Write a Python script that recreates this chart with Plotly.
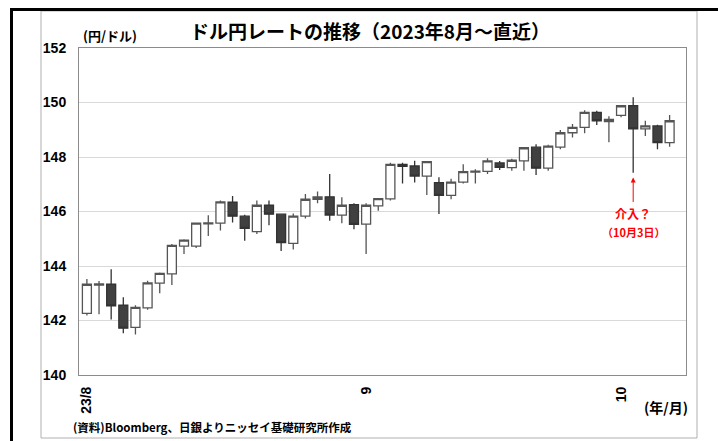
import plotly.graph_objects as go

# Business days, Aug 1 – Oct 6, 2023
dates = [
    "2023-08-01", "2023-08-02", "2023-08-03", "2023-08-04",
    "2023-08-07", "2023-08-08", "2023-08-09", "2023-08-10", "2023-08-11",
    "2023-08-14", "2023-08-15", "2023-08-16", "2023-08-17", "2023-08-18",
    "2023-08-21", "2023-08-22", "2023-08-23", "2023-08-24", "2023-08-25",
    "2023-08-28", "2023-08-29", "2023-08-30", "2023-08-31",
    "2023-09-01",
    "2023-09-04", "2023-09-05", "2023-09-06", "2023-09-07", "2023-09-08",
    "2023-09-11", "2023-09-12", "2023-09-13", "2023-09-14", "2023-09-15",
    "2023-09-18", "2023-09-19", "2023-09-20", "2023-09-21", "2023-09-22",
    "2023-09-25", "2023-09-26", "2023-09-27", "2023-09-28", "2023-09-29",
    "2023-10-02", "2023-10-03", "2023-10-04", "2023-10-05", "2023-10-06",
]

open_ = [
    142.26, 143.30, 143.33, 142.56, 141.75, 142.46, 143.37, 143.71, 144.73,
    144.73, 145.55, 145.57, 146.34, 145.83, 145.26, 146.23, 145.90, 144.83,
    145.83, 146.45, 146.54, 145.87, 146.25, 145.54, 146.21, 146.46, 147.73,
    147.67, 147.30, 147.06, 146.59, 147.08, 147.45, 147.47, 147.78, 147.61,
    147.86, 148.36, 147.59, 148.36, 148.89, 149.09, 149.64, 149.30, 149.53,
    149.88, 149.03, 149.14, 148.53,
]
high = [
    143.52, 143.45, 143.88, 142.85, 142.56, 143.46, 143.76, 144.81, 144.98,
    145.60, 145.86, 146.40, 146.57, 145.88, 146.40, 146.40, 145.93, 145.93,
    146.64, 146.73, 147.38, 146.52, 146.30, 146.30, 146.49, 147.79, 147.79,
    147.86, 147.85, 147.26, 147.20, 147.73, 147.55, 147.95, 147.85, 147.94,
    148.36, 148.47, 148.45, 148.99, 149.21, 149.72, 149.70, 149.50, 149.90,
    150.19, 149.33, 149.18, 149.54,
]
low = [
    142.18, 142.23, 142.04, 141.53, 141.49, 142.39, 143.00, 143.30, 144.44,
    144.66, 145.10, 145.30, 145.60, 144.93, 145.17, 145.50, 144.55, 144.61,
    145.74, 146.30, 145.66, 145.57, 145.35, 144.44, 146.03, 146.40, 147.03,
    147.06, 146.61, 145.91, 146.45, 147.03, 147.03, 147.38, 147.52, 147.50,
    147.50, 147.34, 147.50, 148.28, 148.72, 148.87, 149.17, 148.54, 149.46,
    147.42, 148.77, 148.28, 148.38,
]
close = [
    143.33, 143.34, 142.54, 141.72, 142.48, 143.38, 143.73, 144.76, 144.95,
    145.57, 145.58, 146.35, 145.83, 145.38, 146.23, 145.90, 144.86, 145.83,
    146.45, 146.54, 145.87, 146.23, 145.53, 146.23, 146.47, 147.73, 147.66,
    147.30, 147.83, 146.59, 147.08, 147.46, 147.48, 147.86, 147.62, 147.88,
    148.34, 147.59, 148.40, 148.89, 149.09, 149.64, 149.33, 149.38, 149.88,
    149.03, 149.14, 148.53, 149.33,
]

# Axis ticks
x_tick_dates = ["2023-08-01", "2023-09-01", "2023-10-02"]
x_tick_text = ["23/8", "9", "10"]
y_ticks = [140, 142, 144, 146, 148, 150, 152]

event_date = "2023-10-03"

JP = "Noto Sans CJK JP"
NUM = "Liberation Sans Narrow, Arial Narrow, Liberation Sans, sans-serif"

W, H = 718, 441
ML, MR, MT, MB = 79, 32, 48, 66
PW, PH = W - ML - MR, H - MT - MB


def px_x(px):
    return (px - ML) / PW


def px_y(py):
    return (H - MB - py) / PH


fig = go.Figure()
fig.add_trace(go.Candlestick(
    x=dates, open=open_, high=high, low=low, close=close,
    increasing=dict(fillcolor="#ffffff", line=dict(color="#555555", width=1.3)),
    decreasing=dict(fillcolor="#404040", line=dict(color="#333333", width=1.3)),
    whiskerwidth=0,
    showlegend=False,
    hoverinfo="skip",
))

fig.update_layout(
    width=W, height=H,
    margin=dict(l=ML, r=MR, t=MT, b=MB),
    paper_bgcolor="#ffffff", plot_bgcolor="#ffffff",
    boxgap=0.26, boxgroupgap=0.0,
    showlegend=False,
    font=dict(family=JP, color="#000000"),
)

fig.update_xaxes(
    type="category",
    categoryorder="array", categoryarray=dates,
    range=[-0.65, 49.35],
    rangeslider=dict(visible=False),
    tickmode="array", tickvals=x_tick_dates,
    ticktext=[f"<b>{t}</b>" for t in x_tick_text],
    tickangle=-90,
    tickfont=dict(family=NUM, size=14, color="#000000"),
    ticks="", ticklabelstandoff=5,
    showgrid=False, zeroline=False,
    showline=True, linecolor="#8c8c8c", linewidth=1, mirror=True,
)
fig.update_yaxes(
    range=[140, 152],
    tickmode="array", tickvals=y_ticks,
    ticktext=[f"<b>{v}</b>" for v in y_ticks],
    tickfont=dict(family=NUM, size=14, color="#000000"),
    ticks="", ticklabelstandoff=9,
    showgrid=True, gridcolor="#d9d9d9", gridwidth=1,
    zeroline=False,
    showline=True, linecolor="#8c8c8c", linewidth=1, mirror=True,
)

# Frame: black rules top/left and grey outer box
fig.add_shape(type="rect", xref="paper", yref="paper",
              x0=px_x(41), x1=px_x(697), y0=px_y(438), y1=px_y(11),
              line=dict(color="#b0b0b0", width=1), fillcolor="rgba(0,0,0,0)",
              layer="below")
fig.add_shape(type="line", xref="paper", yref="paper",
              x0=px_x(10), x1=px_x(718), y0=px_y(9.5), y1=px_y(9.5),
              line=dict(color="#000000", width=3))
fig.add_shape(type="line", xref="paper", yref="paper",
              x0=px_x(11.5), x1=px_x(11.5), y0=px_y(8), y1=px_y(441),
              line=dict(color="#000000", width=3))

# Title and labels
fig.add_annotation(text="<b>ドル円レートの推移（2023年8月～直近）</b>",
                   xref="paper", yref="paper", x=px_x(370), y=px_y(30),
                   xanchor="center", yanchor="middle", showarrow=False,
                   font=dict(family=JP, size=19, color="#000000"))
fig.add_annotation(text="<b>(円/ドル)</b>",
                   xref="paper", yref="paper", x=px_x(81), y=px_y(35),
                   xanchor="left", yanchor="middle", showarrow=False,
                   font=dict(family=JP, size=13, color="#000000"))
fig.add_annotation(text="<b>(年/月)</b>",
                   xref="paper", yref="paper", x=px_x(690), y=px_y(407),
                   xanchor="right", yanchor="middle", showarrow=False,
                   font=dict(family=JP, size=14, color="#000000"))
fig.add_annotation(text="<b>(資料)Bloomberg、日銀よりニッセイ基礎研究所作成</b>",
                   xref="paper", yref="paper", x=px_x(71), y=px_y(427),
                   xanchor="left", yanchor="middle", showarrow=False,
                   font=dict(family=JP, size=11.5, color="#000000"))

# Intervention marker
fig.add_annotation(x=event_date, y=147.25, xref="x", yref="y",
                   text="", showarrow=True, arrowhead=2, arrowsize=1,
                   arrowwidth=1, arrowcolor="#ff0000", ax=0, ay=26)
fig.add_annotation(text="<b>介入？</b>",
                   x=event_date, y=145.94, xref="x", yref="y",
                   xanchor="center", yanchor="middle", showarrow=False,
                   font=dict(family=JP, size=12, color="#ff0000"))
fig.add_annotation(text="<b>（10月3日）</b>",
                   x=event_date, y=145.25, xref="x", yref="y",
                   xanchor="center", yanchor="middle", showarrow=False,
                   font=dict(family=JP, size=11, color="#ff0000"))

fig.write_html("out.html")
